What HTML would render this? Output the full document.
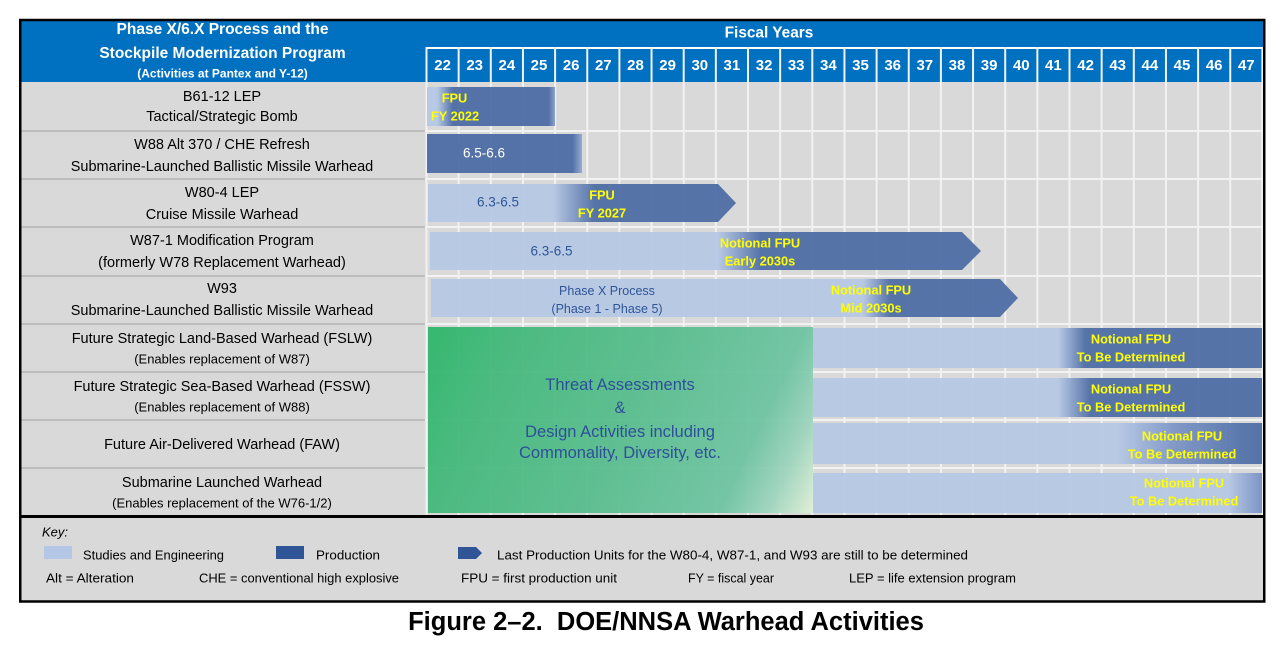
<!DOCTYPE html>
<html>
<head>
<meta charset="utf-8">
<style>
html,body{margin:0;padding:0;background:#fff;}
svg{display:block;}
text{font-family:"Liberation Sans",Arial,sans-serif;}
</style>
</head>
<body>
<svg xmlns="http://www.w3.org/2000/svg" width="1286" height="656" viewBox="0 0 1286 656">
<defs>
  <linearGradient id="gB61" gradientUnits="userSpaceOnUse" x1="427" y1="0" x2="555" y2="0">
    <stop offset="0" stop-color="#b6c8e5"/>
    <stop offset="0.08" stop-color="#b6c8e5"/>
    <stop offset="0.2" stop-color="#4f6ea6"/>
    <stop offset="0.95" stop-color="#4f6ea6"/>
    <stop offset="1" stop-color="#8aa0cc"/>
  </linearGradient>
  <linearGradient id="gW88" gradientUnits="userSpaceOnUse" x1="427" y1="0" x2="582" y2="0">
    <stop offset="0" stop-color="#4f6ea6"/>
    <stop offset="0.94" stop-color="#4f6ea6"/>
    <stop offset="1" stop-color="#93a9d3"/>
  </linearGradient>
  <linearGradient id="gW80" gradientUnits="userSpaceOnUse" x1="428" y1="0" x2="736" y2="0">
    <stop offset="0" stop-color="#b6c8e5"/>
    <stop offset="0.406" stop-color="#b6c8e5"/>
    <stop offset="0.54" stop-color="#4f6ea6"/>
    <stop offset="1" stop-color="#4f6ea6"/>
  </linearGradient>
  <linearGradient id="gW87" gradientUnits="userSpaceOnUse" x1="430" y1="0" x2="981" y2="0">
    <stop offset="0" stop-color="#b6c8e5"/>
    <stop offset="0.523" stop-color="#b6c8e5"/>
    <stop offset="0.6" stop-color="#4f6ea6"/>
    <stop offset="1" stop-color="#4f6ea6"/>
  </linearGradient>
  <linearGradient id="gW93" gradientUnits="userSpaceOnUse" x1="431" y1="0" x2="1018" y2="0">
    <stop offset="0" stop-color="#b6c8e5"/>
    <stop offset="0.736" stop-color="#b6c8e5"/>
    <stop offset="0.782" stop-color="#4f6ea6"/>
    <stop offset="1" stop-color="#4f6ea6"/>
  </linearGradient>
  <linearGradient id="gFSLW" gradientUnits="userSpaceOnUse" x1="813" y1="0" x2="1262" y2="0">
    <stop offset="0" stop-color="#b6c8e5"/>
    <stop offset="0.546" stop-color="#b6c8e5"/>
    <stop offset="0.606" stop-color="#4f6ea6"/>
    <stop offset="1" stop-color="#4f6ea6"/>
  </linearGradient>
  <linearGradient id="gFSSW" gradientUnits="userSpaceOnUse" x1="813" y1="0" x2="1262" y2="0">
    <stop offset="0" stop-color="#b6c8e5"/>
    <stop offset="0.546" stop-color="#b6c8e5"/>
    <stop offset="0.617" stop-color="#4f6ea6"/>
    <stop offset="1" stop-color="#4f6ea6"/>
  </linearGradient>
  <linearGradient id="gFAW" gradientUnits="userSpaceOnUse" x1="813" y1="0" x2="1262" y2="0">
    <stop offset="0" stop-color="#b6c8e5"/>
    <stop offset="0.679" stop-color="#b6c8e5"/>
    <stop offset="0.8" stop-color="#7f97c8"/>
    <stop offset="0.95" stop-color="#5574aa"/>
    <stop offset="1" stop-color="#4f6ea6"/>
  </linearGradient>
  <linearGradient id="gSLW" gradientUnits="userSpaceOnUse" x1="813" y1="0" x2="1262" y2="0">
    <stop offset="0" stop-color="#b6c8e5"/>
    <stop offset="0.924" stop-color="#b6c8e5"/>
    <stop offset="1" stop-color="#7891c4"/>
  </linearGradient>
  <linearGradient id="gGreen" gradientUnits="userSpaceOnUse" x1="428" y1="327" x2="813" y2="513">
    <stop offset="0" stop-color="#2db669"/>
    <stop offset="0.2" stop-color="#45b97c"/>
    <stop offset="0.5" stop-color="#58bd8d"/>
    <stop offset="0.8" stop-color="#6fc4a2"/>
    <stop offset="0.9" stop-color="#9dd4bd"/>
    <stop offset="1" stop-color="#e2f0d8"/>
  </linearGradient>
</defs>

<rect x="0" y="0" width="1286" height="656" fill="#ffffff"/>

<!-- header -->
<rect x="21" y="21" width="1242" height="61" fill="#0070c0"/>
<!-- grid background -->
<rect x="425" y="82" width="838" height="433" fill="#d9d9d9"/>
<!-- white strip above year cells -->
<rect x="425.5" y="47" width="838" height="2" fill="#ffffff"/>
<!-- vertical white lines -->
<path fill="#f2f2f2" d="M425.5 47h2v468h-2z M457.65 47h2v468h-2z M489.8 47h2v468h-2z M521.95 47h2v468h-2z M554.1 47h2v468h-2z M586.25 47h2v468h-2z M618.4 47h2v468h-2z M650.55 47h2v468h-2z M682.7 47h2v468h-2z M714.85 47h2v468h-2z M747 47h2v468h-2z M779.15 47h2v468h-2z M811.3 47h2v468h-2z M843.45 47h2v468h-2z M875.6 47h2v468h-2z M907.75 47h2v468h-2z M939.9 47h2v468h-2z M972.05 47h2v468h-2z M1004.2 47h2v468h-2z M1036.35 47h2v468h-2z M1068.5 47h2v468h-2z M1100.65 47h2v468h-2z M1132.8 47h2v468h-2z M1164.95 47h2v468h-2z M1197.1 47h2v468h-2z M1229.25 47h2v468h-2z M1261.4 47h2v468h-2z"/>
<!-- horizontal grid lines -->
<path fill="#f2f2f2" d="M425 130h838v2h-838z M425 178h838v2h-838z M425 226h838v2h-838z M425 275h838v2h-838z M425 323h838v2h-838z M425 371h838v2h-838z M425 419h838v2h-838z M425 467h838v2h-838z"/>

<!-- left column -->
<rect x="21" y="82" width="404" height="433" fill="#d9d9d9"/>
<path fill="#bdbdbd" d="M21 130h404v2h-404z M21 178h404v2h-404z M21 226h404v2h-404z M21 275h404v2h-404z M21 323h404v2h-404z M21 371h404v2h-404z M21 419h404v2h-404z M21 467h404v2h-404z"/>

<!-- header texts -->
<g fill="#ffffff" font-weight="bold" text-anchor="middle" dominant-baseline="central">
  <text x="222.5" y="29.5" font-size="15.5">Phase X/6.X Process and the</text>
  <text x="222.5" y="53.5" font-size="15.5">Stockpile Modernization Program</text>
  <text x="222.5" y="73.5" font-size="12">(Activities at Pantex and Y-12)</text>
  <text x="769" y="33" font-size="15.4">Fiscal Years</text>
</g>
<g fill="#ffffff" font-weight="bold" text-anchor="middle" dominant-baseline="central" font-size="15">
  <text x="442.6" y="65.5">22</text>
  <text x="474.7" y="65.5">23</text>
  <text x="506.9" y="65.5">24</text>
  <text x="539.0" y="65.5">25</text>
  <text x="571.2" y="65.5">26</text>
  <text x="603.3" y="65.5">27</text>
  <text x="635.5" y="65.5">28</text>
  <text x="667.6" y="65.5">29</text>
  <text x="699.8" y="65.5">30</text>
  <text x="731.9" y="65.5">31</text>
  <text x="764.1" y="65.5">32</text>
  <text x="796.2" y="65.5">33</text>
  <text x="828.4" y="65.5">34</text>
  <text x="860.5" y="65.5">35</text>
  <text x="892.7" y="65.5">36</text>
  <text x="924.8" y="65.5">37</text>
  <text x="957.0" y="65.5">38</text>
  <text x="989.1" y="65.5">39</text>
  <text x="1021.3" y="65.5">40</text>
  <text x="1053.4" y="65.5">41</text>
  <text x="1085.6" y="65.5">42</text>
  <text x="1117.7" y="65.5">43</text>
  <text x="1149.9" y="65.5">44</text>
  <text x="1182.0" y="65.5">45</text>
  <text x="1214.2" y="65.5">46</text>
  <text x="1246.3" y="65.5">47</text>
</g>

<!-- left labels -->
<g fill="#000000" text-anchor="middle" dominant-baseline="central" font-size="14.5">
  <text x="222" y="97">B61-12 LEP</text>
  <text x="222" y="117">Tactical/Strategic Bomb</text>
  <text x="222" y="145">W88 Alt 370 / CHE Refresh</text>
  <text x="222" y="167">Submarine-Launched Ballistic Missile Warhead</text>
  <text x="222" y="193">W80-4 LEP</text>
  <text x="222" y="215">Cruise Missile Warhead</text>
  <text x="222" y="241">W87-1 Modification Program</text>
  <text x="222" y="263">(formerly W78 Replacement Warhead)</text>
  <text x="222" y="289">W93</text>
  <text x="222" y="311">Submarine-Launched Ballistic Missile Warhead</text>
  <text x="222" y="339">Future Strategic Land-Based Warhead (FSLW)</text>
  <text x="222" y="359" font-size="13">(Enables replacement of W87)</text>
  <text x="222" y="387">Future Strategic Sea-Based Warhead (FSSW)</text>
  <text x="222" y="407" font-size="13">(Enables replacement of W88)</text>
  <text x="222" y="445">Future Air-Delivered Warhead (FAW)</text>
  <text x="222" y="483">Submarine Launched Warhead</text>
  <text x="222" y="503" font-size="13">(Enables replacement of the W76-1/2)</text>
</g>

<!-- bars -->
<rect x="427" y="87" width="128" height="39" fill="url(#gB61)" opacity="0.96"/>
<rect x="427" y="134" width="155" height="39" fill="url(#gW88)" opacity="0.96"/>
<polygon points="428,184 718,184 736,203 718,222 428,222" fill="url(#gW80)" opacity="0.95"/>
<polygon points="430,232 962,232 981,251 962,270 430,270" fill="url(#gW87)" opacity="0.95"/>
<polygon points="431,279 1000,279 1018,298 1000,317 431,317" fill="url(#gW93)" opacity="0.95"/>
<rect x="813" y="328" width="449" height="40" fill="url(#gFSLW)" opacity="0.95"/>
<rect x="813" y="378" width="449" height="39" fill="url(#gFSSW)" opacity="0.95"/>
<rect x="813" y="423" width="449" height="41" fill="url(#gFAW)" opacity="0.95"/>
<rect x="813" y="473" width="449" height="40" fill="url(#gSLW)" opacity="0.95"/>
<rect x="428" y="327" width="385" height="186" fill="url(#gGreen)" opacity="0.95"/>

<!-- bar texts -->
<g fill="#ffff00" font-weight="bold" text-anchor="middle" dominant-baseline="central" font-size="12.8">
  <text x="454.5" y="98">FPU</text>
  <text x="455" y="116">FY 2022</text>
  <text x="602" y="195">FPU</text>
  <text x="602" y="213">FY 2027</text>
  <text x="760" y="243">Notional FPU</text>
  <text x="760" y="261">Early 2030s</text>
  <text x="871" y="290">Notional FPU</text>
  <text x="871" y="308">Mid 2030s</text>
  <text x="1131" y="339">Notional FPU</text>
  <text x="1131" y="357">To Be Determined</text>
  <text x="1131" y="389">Notional FPU</text>
  <text x="1131" y="407">To Be Determined</text>
  <text x="1182" y="436">Notional FPU</text>
  <text x="1182" y="454">To Be Determined</text>
  <text x="1184" y="483">Notional FPU</text>
  <text x="1184" y="501">To Be Determined</text>
</g>
<text x="484" y="153" fill="#ffffff" text-anchor="middle" dominant-baseline="central" font-size="13.5">6.5-6.6</text>
<g fill="#2f5597" text-anchor="middle" dominant-baseline="central">
  <text x="498" y="202" font-size="13.5">6.3-6.5</text>
  <text x="551.5" y="251" font-size="13.5">6.3-6.5</text>
  <text x="607" y="291" font-size="12.5">Phase X Process</text>
  <text x="607" y="309" font-size="12.5">(Phase 1 - Phase 5)</text>
</g>
<g fill="#2e4f9a" text-anchor="middle" dominant-baseline="central" font-size="16.5">
  <text x="620" y="385">Threat Assessments</text>
  <text x="620" y="408">&amp;</text>
  <text x="620" y="432">Design Activities including</text>
  <text x="620" y="453">Commonality, Diversity, etc.</text>
</g>

<!-- key area -->
<rect x="21" y="518" width="1242" height="83" fill="#d9d9d9"/>
<rect x="19.5" y="515" width="1246" height="3" fill="#000000"/>
<text x="42" y="532" font-size="13" font-style="italic" fill="#000" dominant-baseline="central">Key:</text>
<rect x="44" y="546" width="28" height="13" fill="#b4c7e7"/>
<text x="83" y="555" font-size="13" fill="#000" dominant-baseline="central" textLength="141" lengthAdjust="spacingAndGlyphs">Studies and Engineering</text>
<rect x="276" y="546" width="28" height="13" fill="#2f5597"/>
<text x="316" y="555" font-size="13" fill="#000" dominant-baseline="central" textLength="64" lengthAdjust="spacingAndGlyphs">Production</text>
<polygon points="458,547 476,547 482,553 476,559 458,559" fill="#2f5597"/>
<text x="497" y="555" font-size="13" fill="#000" dominant-baseline="central" textLength="471" lengthAdjust="spacingAndGlyphs">Last Production Units for the W80-4, W87-1, and W93 are still to be determined</text>
<g font-size="13" fill="#000" dominant-baseline="central">
  <text x="46" y="578" textLength="88" lengthAdjust="spacingAndGlyphs">Alt = Alteration</text>
  <text x="199" y="578" textLength="200" lengthAdjust="spacingAndGlyphs">CHE = conventional high explosive</text>
  <text x="461" y="578" textLength="156" lengthAdjust="spacingAndGlyphs">FPU = first production unit</text>
  <text x="688" y="578" textLength="86" lengthAdjust="spacingAndGlyphs">FY = fiscal year</text>
  <text x="849" y="578" textLength="167" lengthAdjust="spacingAndGlyphs">LEP = life extension program</text>
</g>

<!-- outer border -->
<rect x="20.25" y="20" width="1244" height="581.5" fill="none" stroke="#000000" stroke-width="2.5"/>

<!-- title -->
<text x="666" y="622" font-size="25.5" font-weight="bold" fill="#000" text-anchor="middle" dominant-baseline="central">Figure 2–2.&#160; DOE/NNSA Warhead Activities</text>
</svg>
</body>
</html>
